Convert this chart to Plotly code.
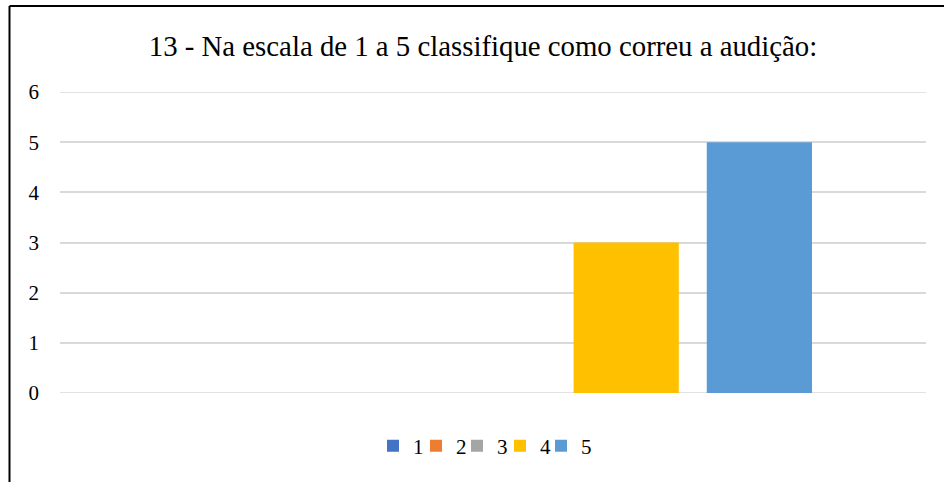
import plotly.graph_objects as go

title = "13 - Na escala de 1 a 5 classifique como correu a audição:"
series_names = ["1", "2", "3", "4", "5"]
series_values = [0, 0, 0, 3, 5]
series_colors = ["#4472C4", "#ED7D31", "#A5A5A5", "#FFC000", "#5B9BD5"]
category = [""]
y_ticks = [0, 1, 2, 3, 4, 5, 6]

font_family = "Liberation Serif"

W, H = 944, 482
L, R, T, B = 60, 18, 92, 89
pw, ph = W - L - R, H - T - B

def px_x(px):
    return (px - L) / pw

def px_y(py):
    return (H - B - py) / ph

legend_left_px = [388, 431, 472, 515, 556]

fig = go.Figure()
legends = {}
for i, (name, val, col) in enumerate(zip(series_names, series_values, series_colors)):
    lname = "legend" if i == 0 else f"legend{i + 1}"
    fig.add_trace(go.Bar(x=category, y=[val], name=name, marker_color=col,
                         marker_line_width=0, legend=lname, showlegend=True))
    legends[lname] = dict(orientation="h", x=px_x(legend_left_px[i] - 15), xanchor="left",
                          y=px_y(446), yanchor="middle", bgcolor="rgba(0,0,0,0)",
                          font=dict(family=font_family, size=21, color="#000000"),
                          itemwidth=30, visible=True)

shapes = [
    dict(type="line", xref="paper", yref="paper", x0=px_x(9.5), x1=px_x(944),
         y0=px_y(6), y1=px_y(6), line=dict(color="#000000", width=2)),
    dict(type="line", xref="paper", yref="paper", x0=px_x(9.5), x1=px_x(9.5),
         y0=px_y(6), y1=px_y(482), line=dict(color="#000000", width=2)),
]
for yv in (y_ticks[0], y_ticks[-1]):
    shapes.append(dict(type="line", xref="paper", yref="y", x0=0, x1=1, y0=yv, y1=yv,
                       line=dict(color="#D9D9D9", width=1.5), layer="below"))

fig.update_layout(
    width=W, height=H,
    showlegend=True,
    margin=dict(l=L, r=R, t=T, b=B, autoexpand=False),
    paper_bgcolor="white", plot_bgcolor="white",
    barmode="group", bargap=0.231, bargroupgap=0.21,
    title=dict(text=title, x=483 / W, xanchor="center", y=1 - 46 / H, yanchor="middle",
               font=dict(family=font_family, size=28.8, color="#000000")),
    font=dict(family=font_family, color="#000000"),
    xaxis=dict(showticklabels=False, showgrid=False, zeroline=False, showline=False,
               fixedrange=True),
    yaxis=dict(range=[0, 6], tickvals=y_ticks, showgrid=True, gridcolor="#D9D9D9",
               gridwidth=1.5, zeroline=False, showline=False, ticks="",
               ticklabelstandoff=20, fixedrange=True,
               tickfont=dict(family=font_family, size=21, color="#000000")),
    shapes=shapes,
    **legends,
)

fig.write_html("out.html", config={"displayModeBar": False},
               post_script="document.body.style.margin='0';")
